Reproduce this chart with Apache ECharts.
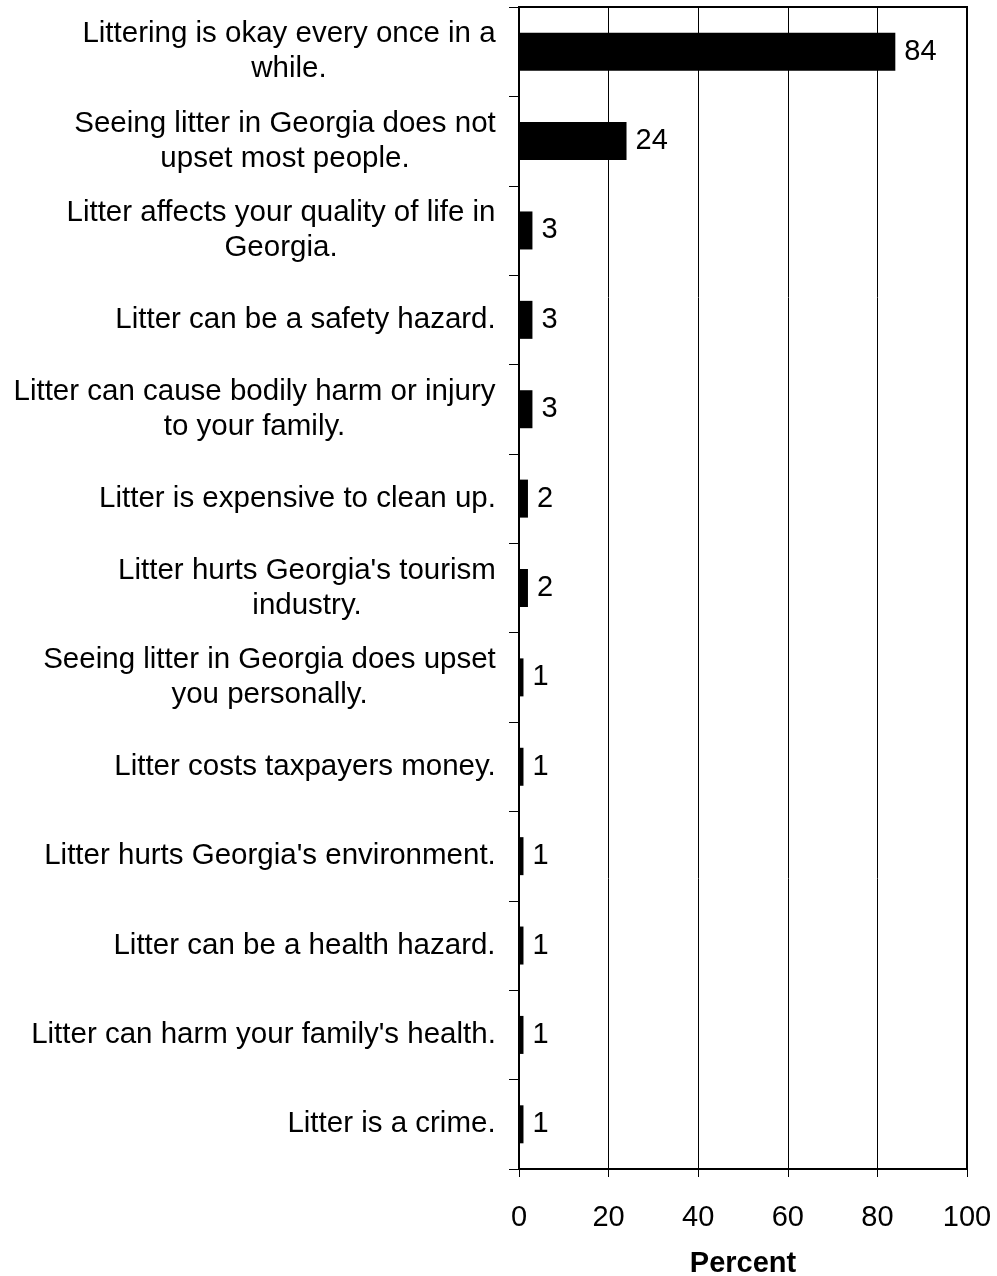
<!DOCTYPE html>
<html><head><meta charset="utf-8">
<script src="https://cdn.jsdelivr.net/npm/echarts@6/dist/echarts.min.js"></script>
<style>html,body{margin:0;padding:0;background:#fff}#c{width:997px;height:1276px}</style>
</head><body><div id="c"></div>
<script>
const categories = [
  "Littering is okay every once in a\nwhile.",
  "Seeing litter in Georgia does not\nupset most people.",
  "Litter affects your quality of life in\nGeorgia.",
  "Litter can be a safety hazard.",
  "Litter can cause bodily harm or injury\nto your family.",
  "Litter is expensive to clean up.",
  "Litter hurts Georgia's tourism\nindustry.",
  "Seeing litter in Georgia does upset\nyou personally.",
  "Litter costs taxpayers money.",
  "Litter hurts Georgia's environment.",
  "Litter can be a health hazard.",
  "Litter can harm your family's health.",
  "Litter is a crime."
];
const values = [84, 24, 3, 3, 3, 2, 2, 1, 1, 1, 1, 1, 1];
const xTicks = [0, 20, 40, 60, 80, 100];
const xAxisName = "Percent";

const fontFam = "Liberation Sans, Arial, sans-serif";
const catFontSize = 29.5;
const numFontSize = 29;

// Centered multi-line labels: block right-aligned to the axis, lines centered within it.
const ctx = document.createElement('canvas').getContext('2d');
ctx.font = catFontSize + 'px ' + fontFam;
const rich = {};
categories.forEach(function (c, i) {
  const w = Math.max.apply(null, c.split('\n').map(function (s) { return ctx.measureText(s).width; }));
  rich['l' + i] = {width: Math.ceil(w), align: 'center', fontSize: catFontSize, lineHeight: 35, color: '#000', fontFamily: fontFam};
});

const chart = echarts.init(document.getElementById('c'), null, {renderer: 'canvas'});
chart.setOption({
  animation: false,
  textStyle: {fontFamily: fontFam},
  grid: {left: 519, right: 30, top: 7, bottom: 107, show: true, borderColor: '#000', borderWidth: 2,
         containLabel: false, outerBoundsMode: 'none'},
  xAxis: {
    type: 'value', min: xTicks[0], max: xTicks[xTicks.length - 1], interval: 20,
    axisLine: {show: true, lineStyle: {color: '#000', width: 2}},
    axisTick: {show: true, length: 8, lineStyle: {color: '#000', width: 1}},
    axisLabel: {fontSize: numFontSize, color: '#000', margin: 34, fontFamily: fontFam},
    splitLine: {show: true, lineStyle: {color: '#000', width: 1}},
    name: xAxisName, nameLocation: 'middle', nameGap: 80,
    nameTextStyle: {fontSize: numFontSize, fontWeight: 'bold', color: '#000', fontFamily: fontFam}
  },
  yAxis: {
    type: 'category', data: categories, inverse: true,
    axisLine: {show: true, lineStyle: {color: '#000', width: 2}},
    axisTick: {show: true, length: 10, lineStyle: {color: '#000', width: 1}},
    axisLabel: {
      fontSize: catFontSize, color: '#000', margin: 23, lineHeight: 35, align: 'right', fontFamily: fontFam,
      formatter: function (v, i) {
        return v.split('\n').map(function (s) { return '{l' + i + '|' + s + '}'; }).join('\n');
      },
      rich: rich
    },
    splitLine: {show: false}
  },
  series: [{
    type: 'bar', data: values, barWidth: 38,
    itemStyle: {color: '#000'},
    label: {show: true, position: 'right', distance: 9, fontSize: numFontSize, color: '#000', fontFamily: fontFam}
  }]
});
</script></body></html>
